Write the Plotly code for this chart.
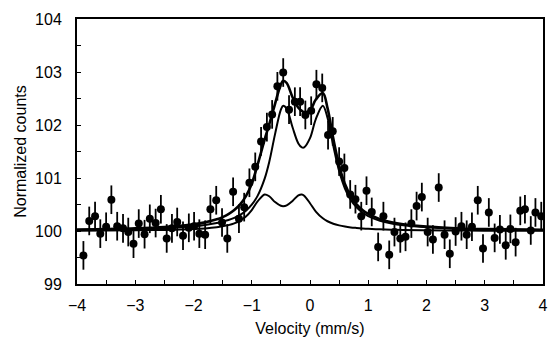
import plotly.graph_objects as go

velocity = [-3.89, -3.79, -3.69, -3.60, -3.50, -3.41, -3.31, -3.21, -3.12, -3.03,
            -2.94, -2.84, -2.75, -2.65, -2.56, -2.46, -2.37, -2.28, -2.18, -2.08,
            -1.99, -1.90, -1.80, -1.71, -1.61, -1.51, -1.42, -1.32, -1.22, -1.13,
            -1.04, -0.94, -0.84, -0.74, -0.65, -0.56, -0.46, -0.36, -0.26, -0.17,
            -0.08, 0.02, 0.11, 0.21, 0.31, 0.39, 0.50, 0.59, 0.69, 0.78,
            0.88, 0.97, 1.06, 1.17, 1.26, 1.36, 1.45, 1.55, 1.64, 1.74,
            1.83, 1.92, 2.02, 2.11, 2.21, 2.31, 2.40, 2.50, 2.60, 2.69,
            2.78, 2.88, 2.97, 3.07, 3.17, 3.26, 3.36, 3.44, 3.53, 3.61,
            3.69, 3.79, 3.87, 3.97]
counts = [99.54, 100.19, 100.28, 99.95, 100.08, 100.59, 100.09, 100.05, 99.98, 99.76,
          100.14, 99.94, 100.23, 100.15, 100.41, 99.86, 100.05, 100.17, 99.91, 100.06,
          100.09, 99.95, 99.93, 100.41, 100.58, 100.16, 99.86, 100.74, 100.23, 100.45,
          100.91, 101.21, 101.69, 101.96, 102.20, 102.73, 102.99, 102.29, 102.44, 102.44,
          102.19, 102.27, 102.77, 102.70, 101.81, 101.88, 101.31, 101.19, 100.69, 100.60,
          100.28, 100.76, 100.36, 99.70, 100.28, 99.55, 99.98, 99.86, 99.89, 100.14,
          100.47, 100.64, 99.98, 99.84, 100.82, 99.93, 99.57, 99.99, 100.09, 99.93,
          100.08, 100.58, 99.67, 100.35, 99.87, 100.03, 99.73, 100.04, 99.79, 100.38,
          100.41, 100.01, 100.35, 100.28]
ERR = 0.27

# Fitted curves
fit_v = [-4, -3, -2.5, -2, -1.8, -1.6, -1.5, -1.4, -1.3, -1.2, -1.1, -1.0, -0.9,
         -0.78, -0.7, -0.6, -0.5, -0.46, -0.4, -0.3, -0.2, -0.14, -0.1, 0, 0.1,
         0.22, 0.3, 0.4, 0.5, 0.6, 0.7, 0.8, 0.9, 1.0, 1.2, 1.4, 1.6, 2, 2.5, 3, 4]
fit_total = [100.026, 100.049, 100.074, 100.125, 100.163, 100.220, 100.262, 100.318,
             100.394, 100.501, 100.659, 100.892, 101.250, 101.720, 102.010, 102.400,
             102.767, 102.833, 102.792, 102.524, 102.326, 102.267, 102.244, 102.275,
             102.480, 102.602, 102.323, 101.744, 101.236, 100.886, 100.657, 100.503,
             100.398, 100.322, 100.224, 100.165, 100.127, 100.082, 100.053, 100.037, 100.021]
fit_major = [100.020, 100.036, 100.054, 100.089, 100.113, 100.150, 100.175, 100.207,
             100.249, 100.306, 100.384, 100.497, 100.663, 100.983, 101.303, 101.828,
             102.291, 102.364, 102.308, 101.957, 101.653, 101.578, 101.578, 101.751,
             102.112, 102.364, 102.139, 101.607, 101.131, 100.802, 100.588, 100.447,
             100.350, 100.281, 100.193, 100.141, 100.108, 100.069, 100.044, 100.031, 100.017]
fit_minor = [100.006, 100.013, 100.020, 100.036, 100.049, 100.071, 100.088, 100.111,
             100.145, 100.196, 100.274, 100.396, 100.557, 100.690, 100.656, 100.546,
             100.476, 100.469, 100.484, 100.567, 100.673, 100.690, 100.667, 100.524,
             100.367, 100.239, 100.184, 100.137, 100.106, 100.084, 100.068, 100.057,
             100.048, 100.041, 100.031, 100.024, 100.020, 100.013, 100.009, 100.007, 100.004]

fig = go.Figure()
for ys, w in ((fit_minor, 2.0), (fit_major, 2.0), (fit_total, 2.6)):
    fig.add_trace(go.Scatter(x=fit_v, y=ys, mode="lines",
                             line=dict(color="black", width=w, shape="spline"),
                             hoverinfo="skip", showlegend=False))
fig.add_trace(go.Scatter(x=velocity, y=counts, mode="markers",
                         marker=dict(color="black", size=8),
                         error_y=dict(type="constant", value=ERR, color="black",
                                      thickness=1.8, width=0),
                         showlegend=False))

fig.update_layout(
    width=550, height=340,
    margin=dict(l=77, r=2, t=19, b=56),
    paper_bgcolor="white", plot_bgcolor="white",
    font=dict(family="Liberation Sans, Arial, sans-serif", color="black", size=16),
)
axis_common = dict(showline=True, linewidth=2, linecolor="black", mirror=True,
                   ticks="inside", ticklen=4, tickwidth=1.3, tickcolor="black",
                   showgrid=False, zeroline=False, ticklabeloverflow="allow")
fig.update_xaxes(range=[-4, 4], dtick=1, tick0=0,
                 minor=dict(dtick=0.5, ticks="inside", ticklen=4, tickcolor="black", showgrid=False),
                 ticklabelstandoff=6,
                 title=dict(text="Velocity (mm/s)", font=dict(size=16), standoff=10),
                 **axis_common)
fig.update_yaxes(range=[99, 104], dtick=1, tick0=99,
                 minor=dict(dtick=0.5, ticks="inside", ticklen=4, tickcolor="black", showgrid=False),
                 ticklabelstandoff=10,
                 title=dict(text="Normalized counts", font=dict(size=16), standoff=4),
                 **axis_common)

fig.write_html("out.html")
